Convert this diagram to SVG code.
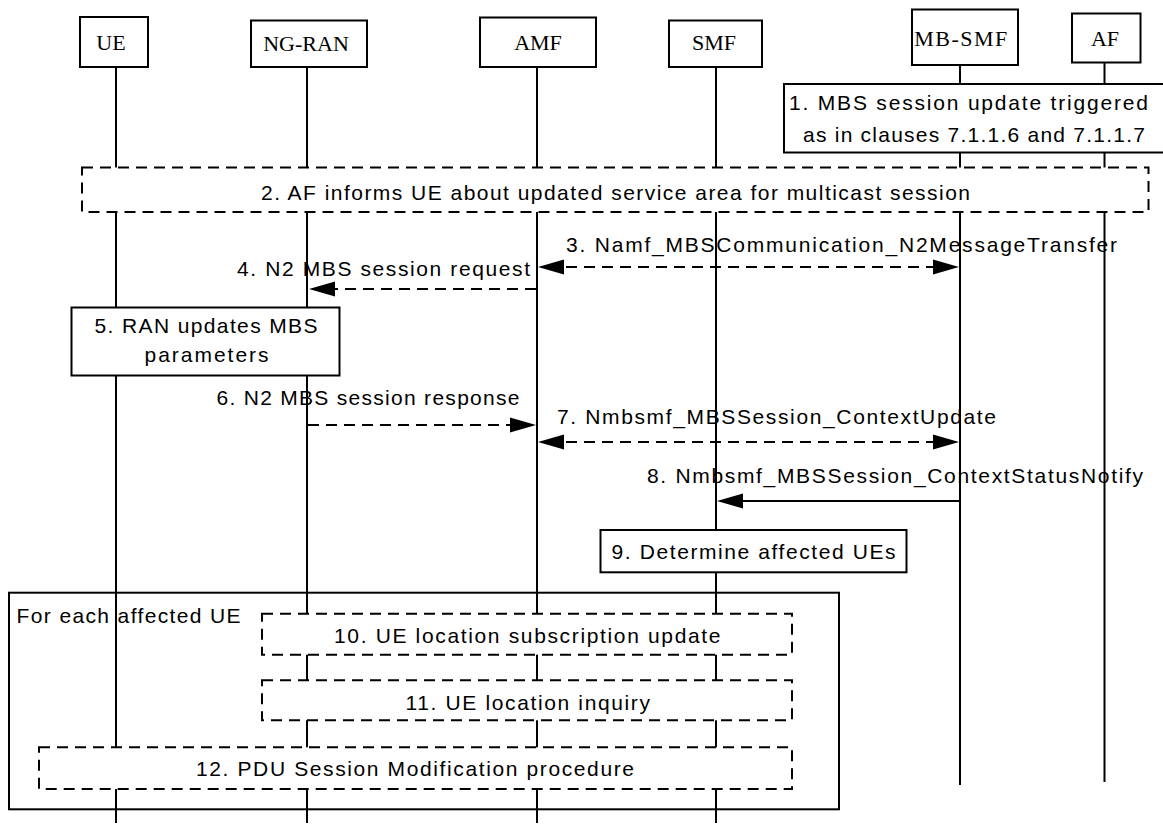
<svg xmlns="http://www.w3.org/2000/svg" width="1163" height="825" viewBox="0 0 1163 825">
<style>
.t{font-family:"Liberation Sans",Arial,sans-serif;font-size:21px;fill:#000}
.h{font-family:"Liberation Serif","Times New Roman",serif;font-size:22px;fill:#000;text-anchor:middle}
.box{fill:#fff;stroke:#000;stroke-width:2}
.frame{fill:none;stroke:#000;stroke-width:2}
.dbox{fill:#fff;stroke:#000;stroke-width:2;stroke-dasharray:11 7}
.life{stroke:#000;stroke-width:2;fill:none}
.msg{stroke:#000;stroke-width:2;fill:none}
.dash{stroke-dasharray:11 7}
</style>
<defs>
<marker id="ah" markerUnits="userSpaceOnUse" markerWidth="26" markerHeight="16" viewBox="0 0 26 16" refX="16" refY="8" orient="auto-start-reverse">
<path d="M0,0.5 L26,8 L0,15.5 z" fill="#000" stroke="none"/>
</marker>
</defs>
<rect width="1163" height="825" fill="#fff"/>
<g id="lifelines">
<line class="life" x1="116" y1="67" x2="116" y2="823"/>
<line class="life" x1="307" y1="67" x2="307" y2="823"/>
<line class="life" x1="537" y1="67" x2="537" y2="823"/>
<line class="life" x1="716" y1="67" x2="716" y2="823"/>
<line class="life" x1="960" y1="65" x2="960" y2="785"/>
<line class="life" x1="1104.5" y1="63" x2="1104.5" y2="782"/>
</g>
<g id="UE"><rect class="box" x="80" y="17" width="68" height="50"/><text class="h" x="111" y="50">UE</text></g>
<g id="NG-RAN"><rect class="box" x="251" y="20.5" width="116" height="46.5"/><text class="h" x="306" y="50.5">NG-RAN</text></g>
<g id="AMF"><rect class="box" x="480" y="17.5" width="116" height="49.5"/><text class="h" x="538" y="50">AMF</text></g>
<g id="SMF"><rect class="box" x="669" y="20.5" width="93" height="46.5"/><text class="h" x="714" y="50">SMF</text></g>
<g id="MB-SMF"><rect class="box" x="912" y="9.5" width="106" height="55.5"/><text class="h" x="961.5" y="46" style="letter-spacing:1.5px">MB-SMF</text></g>
<g id="AF"><rect class="box" x="1072" y="13.5" width="68.5" height="49"/><text class="h" x="1105" y="46">AF</text></g>
<g id="step1"><rect class="box" x="784" y="84" width="400" height="68.5"/>
<text class="t" x="789" y="109.5" textLength="359" lengthAdjust="spacing">1. MBS session update triggered</text>
<text class="t" x="803" y="141.7" textLength="342" lengthAdjust="spacing">as in clauses 7.1.1.6 and 7.1.1.7</text></g>
<g id="step2"><rect class="dbox" x="82" y="167.5" width="1066.5" height="44.5"/>
<text class="t" x="261" y="200" textLength="709" lengthAdjust="spacing">2. AF informs UE about updated service area for multicast session</text></g>
<g id="step5"><rect class="box" x="71.5" y="307.5" width="268" height="68"/>
<text class="t" x="94.5" y="333.3" textLength="223" lengthAdjust="spacing">5. RAN updates MBS</text>
<text class="t" x="144.5" y="361.7" textLength="124" lengthAdjust="spacing">parameters</text></g>
<g id="step9"><rect class="box" x="600.5" y="530" width="306" height="42.3"/>
<text class="t" x="611.6" y="559" textLength="284" lengthAdjust="spacing">9. Determine affected UEs</text></g>
<g id="loop"><rect class="frame" x="9" y="592.7" width="830" height="216.6"/>
<text class="t" x="16.6" y="622.7" textLength="224" lengthAdjust="spacing">For each affected UE</text></g>
<g id="step10"><rect class="dbox" x="262" y="613.7" width="530" height="41"/>
<text class="t" x="334" y="642.5" textLength="386.5" lengthAdjust="spacing">10. UE location subscription update</text></g>
<g id="step11"><rect class="dbox" x="262" y="680.3" width="530" height="40"/>
<text class="t" x="405.5" y="709.7" textLength="244.5" lengthAdjust="spacing">11. UE location inquiry</text></g>
<g id="step12"><rect class="dbox" x="39" y="747.3" width="753" height="41.7"/>
<text class="t" x="196" y="776" textLength="438" lengthAdjust="spacing">12. PDU Session Modification procedure</text></g>
<g id="connectors">
<line class="msg dash" x1="548" y1="267" x2="949" y2="267" marker-start="url(#ah)" marker-end="url(#ah)"/>
<text class="t" x="566" y="251.7" textLength="551" lengthAdjust="spacing">3. Namf_MBSCommunication_N2MessageTransfer</text>
<line class="msg dash" x1="536" y1="289" x2="319" y2="289" marker-end="url(#ah)"/>
<text class="t" x="237" y="276" textLength="293" lengthAdjust="spacing">4. N2 MBS session request</text>
<line class="msg dash" x1="308" y1="425" x2="526" y2="425" marker-end="url(#ah)"/>
<text class="t" x="216.5" y="405" textLength="303" lengthAdjust="spacing">6. N2 MBS session response</text>
<line class="msg dash" x1="548" y1="442" x2="949" y2="442" marker-start="url(#ah)" marker-end="url(#ah)"/>
<text class="t" x="557" y="424" textLength="439" lengthAdjust="spacing">7. Nmbsmf_MBSSession_ContextUpdate</text>
<line class="msg" x1="960" y1="501" x2="727" y2="501" marker-end="url(#ah)"/>
<text class="t" x="647" y="483" textLength="496" lengthAdjust="spacing">8. Nmbsmf_MBSSession_ContextStatusNotify</text>
</g>
</svg>
